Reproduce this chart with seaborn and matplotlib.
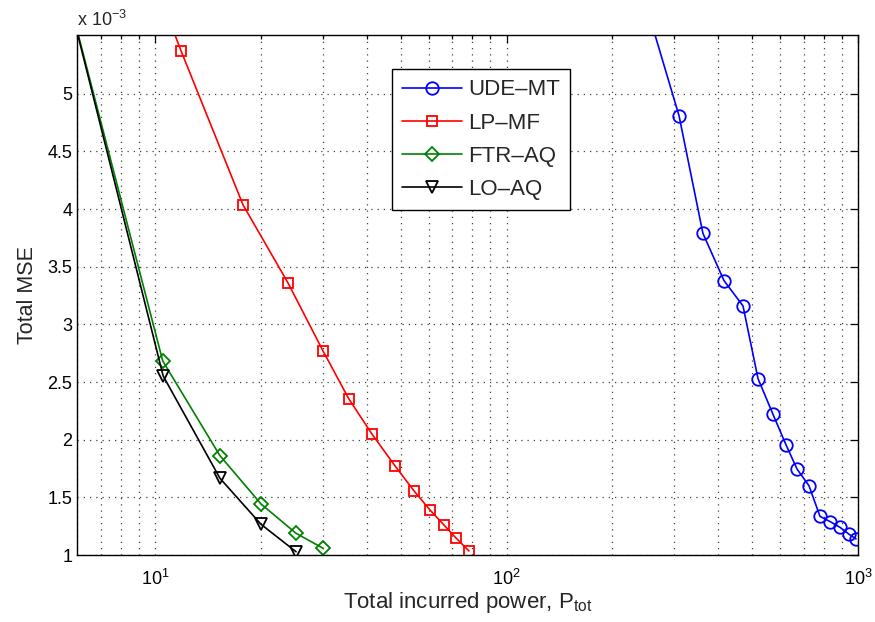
import numpy as np
import pandas as pd
import matplotlib
matplotlib.use("Agg")
import matplotlib.pyplot as plt
import matplotlib.ticker as mticker
import seaborn as sns

# ---- data ----
ude_x = [237, 309.6, 362, 415.6, 470.8, 519.4, 573, 624, 670.8, 725.5, 779.5, 832.5, 888.6, 942.8, 987]
ude_y = [6.0e-3, 4.81e-3, 3.79e-3, 3.38e-3, 3.16e-3, 2.53e-3, 2.22e-3, 1.955e-3, 1.745e-3, 1.60e-3,
         1.335e-3, 1.29e-3, 1.24e-3, 1.18e-3, 1.14e-3]

lp_x = [9.9, 11.86, 17.8, 23.9, 30.06, 35.6, 41.4, 48.2, 54.6, 60.6, 66.4, 71.8, 78.2]
lp_y = [6.0e-3, 5.373e-3, 4.037e-3, 3.36e-3, 2.77e-3, 2.354e-3, 2.05e-3, 1.772e-3, 1.555e-3,
        1.39e-3, 1.26e-3, 1.148e-3, 1.035e-3]

ftr_x = [5.5, 10.52, 15.3, 20.03, 25.2, 30.1]
ftr_y = [6.0e-3, 2.683e-3, 1.862e-3, 1.4425e-3, 1.188e-3, 1.058e-3]

lo_x = [5.5, 10.55, 15.3, 20.03, 25.2]
lo_y = [6.0e-3, 2.553e-3, 1.666e-3, 1.266e-3, 1.028e-3]

series_names = ["UDE–MT", "LP–MF", "FTR–AQ", "LO–AQ"]
series_colors = ["#0000ff", "#ff0000", "#008000", "#000000"]
series_markers = ["o", "s", "D", "v"]
series_msize = [9, 7.5, 7.5, 9]

xlabel_main = "Total incurred power, P$_{\\mathrm{tot}}$"
ylabel_main = "Total MSE"
y_ticks = [1e-3, 1.5e-3, 2e-3, 2.5e-3, 3e-3, 3.5e-3, 4e-3, 4.5e-3, 5e-3]

frames = []
for name, xs, ys in zip(series_names, [ude_x, lp_x, ftr_x, lo_x], [ude_y, lp_y, ftr_y, lo_y]):
    frames.append(pd.DataFrame({"power": xs, "mse": ys, "method": name}))
df = pd.concat(frames, ignore_index=True)

sns.set_style("white")
plt.rcParams["font.family"] = ["Liberation Sans", "DejaVu Sans"]
plt.rcParams["mathtext.fontset"] = "custom"
plt.rcParams["mathtext.rm"] = "Liberation Sans"
plt.rcParams["mathtext.it"] = "Liberation Sans"

fig = plt.figure(figsize=(8.75, 6.22), dpi=100)
ax = fig.add_axes([0.088, 0.1077, 0.8926, 0.836])

for name, col, mk, ms in zip(series_names, series_colors, series_markers, series_msize):
    sub = df[df["method"] == name]
    sns.lineplot(data=sub, x="power", y="mse", ax=ax, color=col, marker=mk,
                 markersize=ms, markerfacecolor="none", markeredgecolor=col,
                 markeredgewidth=1.3, linewidth=1.2, sort=False, estimator=None,
                 label=name, clip_on=True)

ax.set_xscale("log")
ax.set_xlim(6, 1000)
ax.set_ylim(1e-3, 5.51e-3)
ax.set_yticks(y_ticks)
ax.yaxis.set_major_formatter(mticker.FuncFormatter(lambda v, p: f"{round(v * 1e3, 6):g}"))
ax.xaxis.set_major_locator(mticker.LogLocator(base=10, numticks=10))
ax.xaxis.set_minor_locator(mticker.LogLocator(base=10, subs=np.arange(2, 10), numticks=20))
ax.xaxis.set_minor_formatter(mticker.NullFormatter())

ax.grid(True, which="major", axis="both", linestyle=(0, (1, 4)), color="0.25", linewidth=0.9)
ax.grid(True, which="minor", axis="x", linestyle=(0, (1, 4)), color="0.25", linewidth=0.9)

ax.tick_params(which="both", direction="in", top=True, right=True, labelsize=13,
               width=0.9, colors="black")
ax.tick_params(which="major", length=6)
ax.tick_params(which="minor", length=3)
ax.tick_params(axis="x", pad=10)
for s in ax.spines.values():
    s.set_color("black")
    s.set_linewidth(1.0)

ax.set_xlabel(xlabel_main, fontsize=16, labelpad=1)
ax.set_ylabel(ylabel_main, fontsize=15.5, labelpad=7)

fig.text(0.088, 0.958, "x 10$^{-3}$", fontsize=13, ha="left", va="baseline")

leg = ax.legend(loc="upper left", bbox_to_anchor=(0.403, 0.934), fontsize=16,
                frameon=True, fancybox=False, edgecolor="black", framealpha=1,
                handlelength=2.7, handletextpad=0.3, borderpad=0.45, labelspacing=0.55,
                borderaxespad=0)
leg.get_frame().set_linewidth(1.0)

fig.savefig("out.png", dpi=100)
